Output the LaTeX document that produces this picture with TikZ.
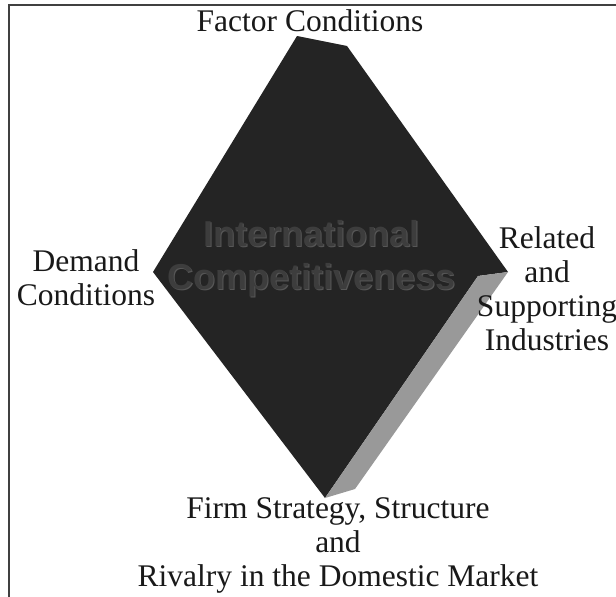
\documentclass[tikz,border=0pt]{standalone}
\usepackage{fontspec}
\setmainfont{Liberation Serif}
\newfontfamily\heavysans{Liberation Sans}
\begin{document}
\begin{tikzpicture}[x=1pt,y=-1pt,
  label/.style={font=\fontsize{31.5}{34}\selectfont, align=center, inner sep=0pt, text=black!90},
  core/.style={font=\heavysans\bfseries\fontsize{36}{43}\selectfont, align=center, inner sep=0pt},
  frameline/.style={line width=1.6pt, black!75}]
\useasboundingbox (0,0) rectangle (616,597);
\fill[white] (0,0) rectangle (616,597);
% frame
\draw[frameline] (616,5) -- (9,5) -- (9,597);
% diamond corners
\coordinate (top) at (297,36);
\coordinate (topb) at (347,46);
\coordinate (right) at (478,276);
\coordinate (rightb) at (508,272);
\coordinate (bottom) at (325,498);
\coordinate (bottomb) at (355,489);
\coordinate (left) at (153,272);
% front and upper faces in one piece, then the lit side face
\fill[black!86] (top) -- (topb) -- (rightb) -- (right) -- (bottom) -- (left) -- cycle;
\fill[black!40] (right) -- (rightb) -- (bottomb) -- (bottom) -- cycle;
% centre title, embossed
\node[core, text=black!66] at (312.5,259.5) {International\\Competitiveness};
\node[core, text=black!76] (core) at (311.5,258.5) {International\\Competitiveness};
% corner labels
\node[label] (factor) at (310,21) {Factor Conditions};
\node[label] (demand) at (86,278) {Demand\\Conditions};
\node[label] (related) at (547,289) {Related\\and\\Supporting\\Industries};
\node[label] (firm) at (338,545) {Firm Strategy, Structure\\and\\Rivalry in the Domestic Market};
\end{tikzpicture}
\end{document}
